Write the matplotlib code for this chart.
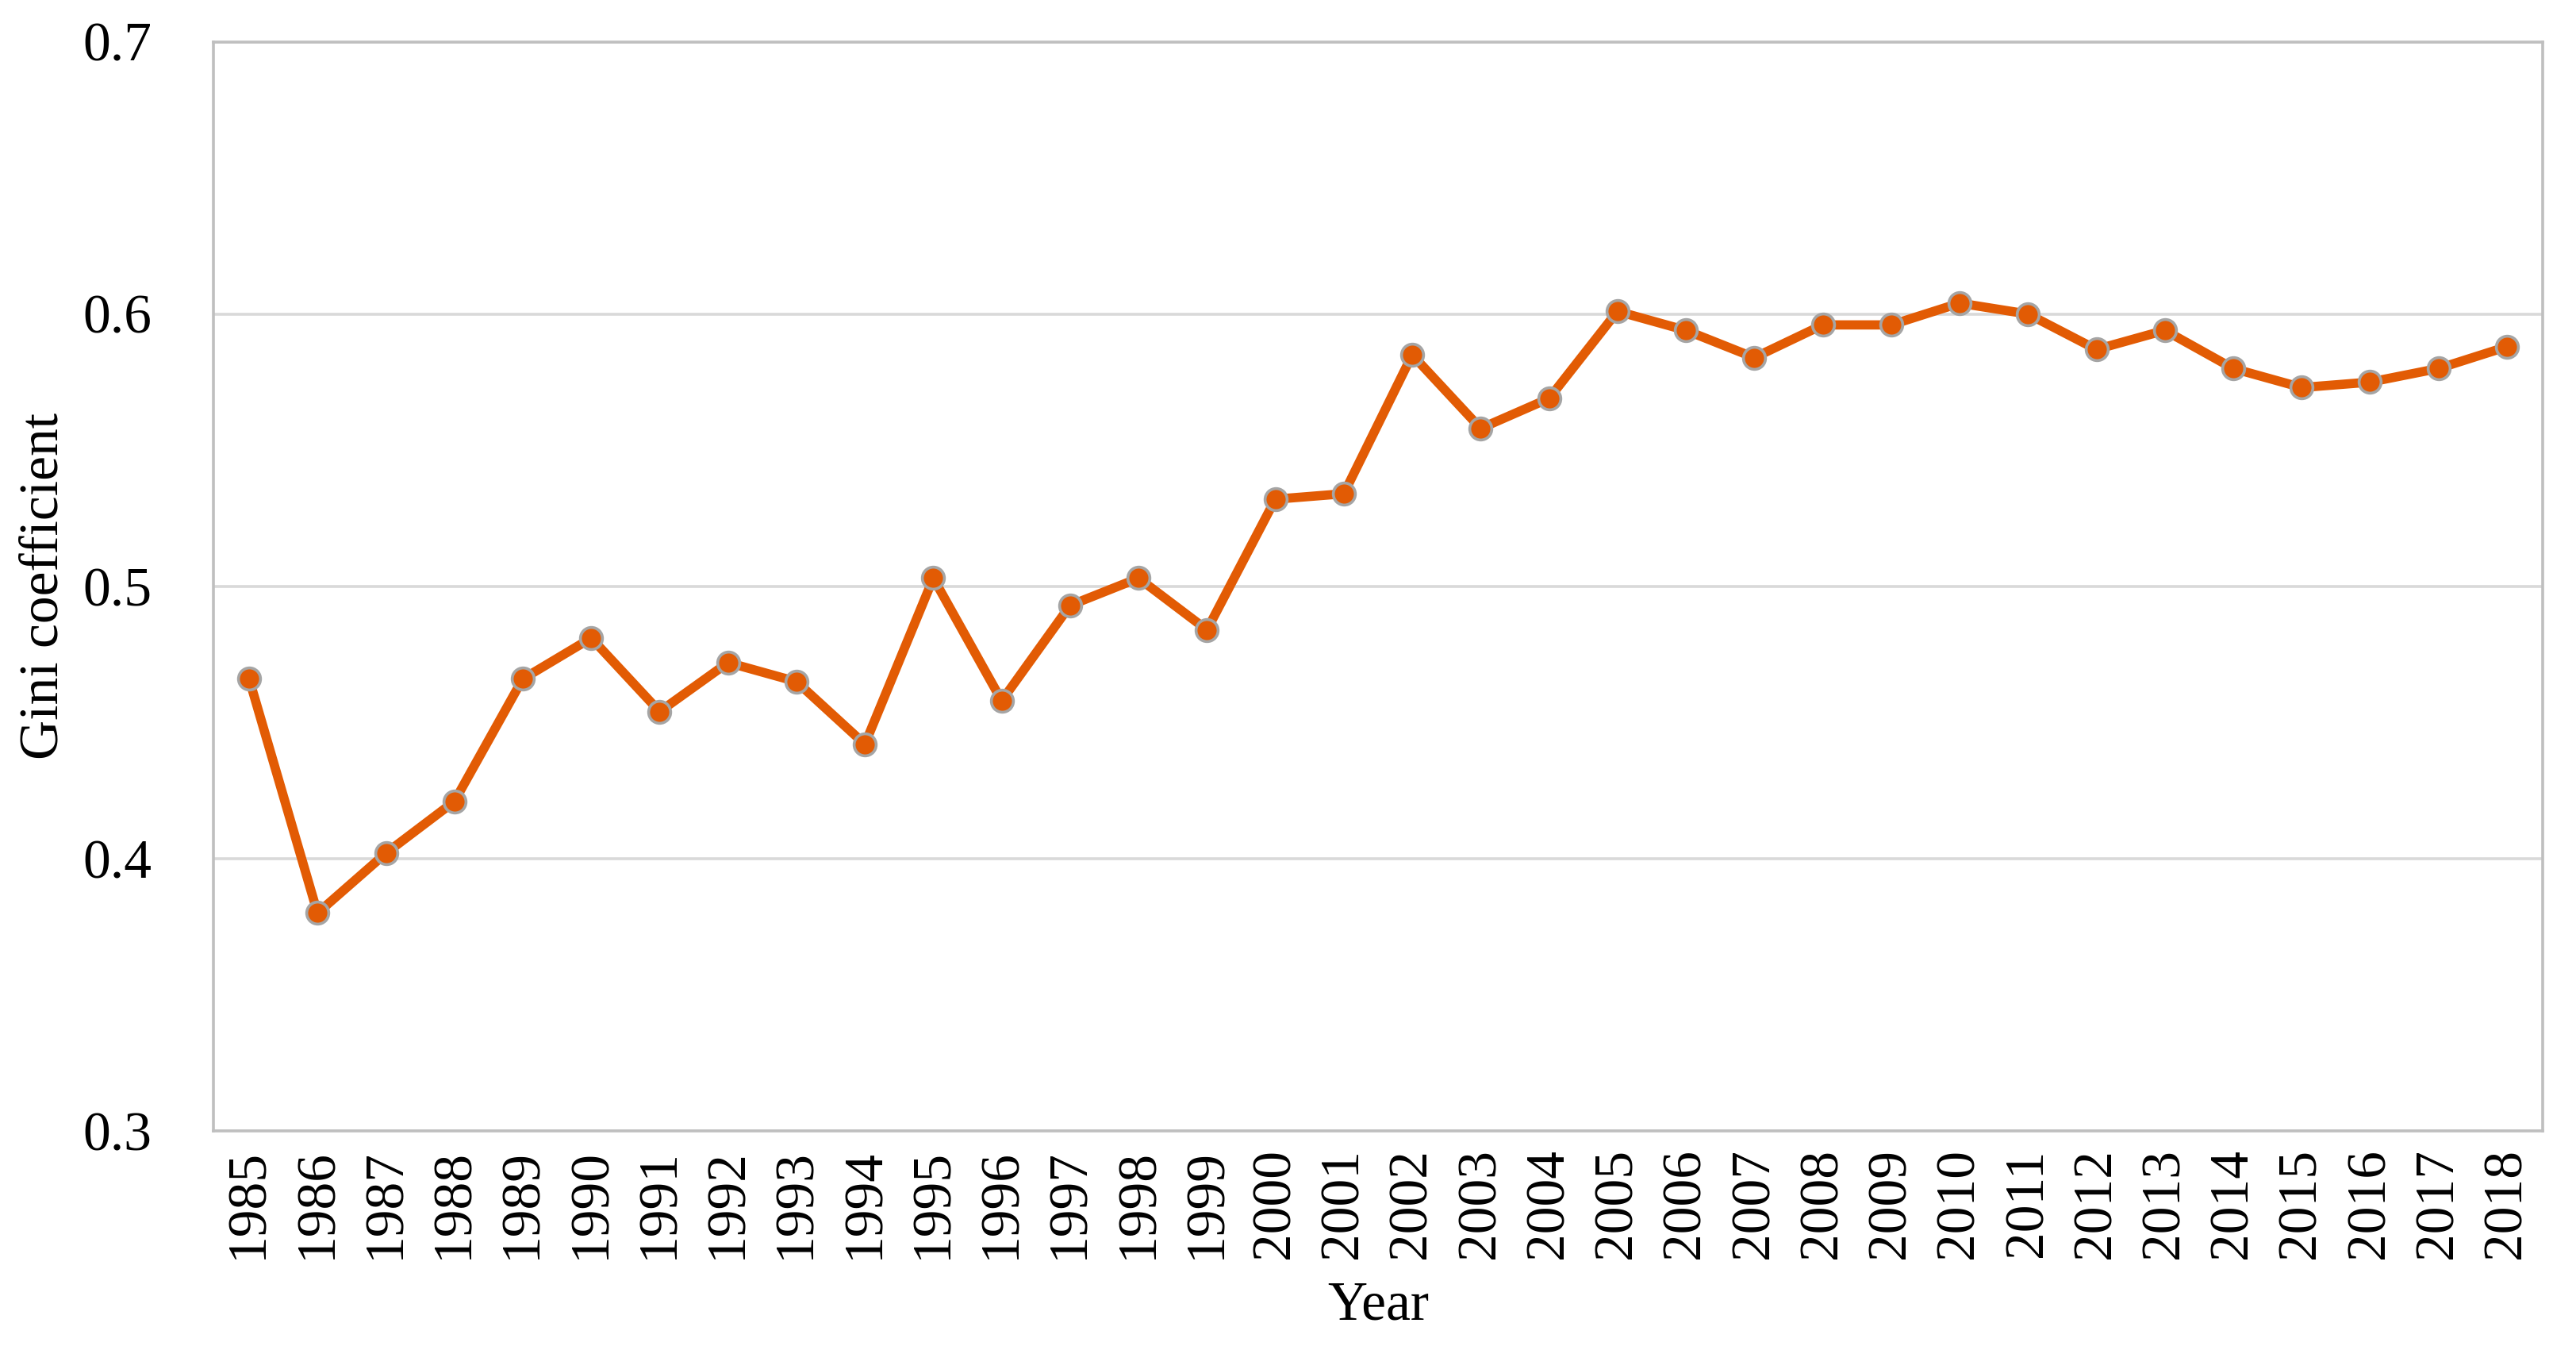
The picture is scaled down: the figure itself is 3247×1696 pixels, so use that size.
import matplotlib
matplotlib.use("Agg")
import matplotlib.pyplot as plt

# -------------------
# Data
# -------------------
years = [str(y) for y in range(1985, 2019)]
gini = [0.466, 0.380, 0.402, 0.421, 0.466, 0.481, 0.454, 0.472, 0.465, 0.442,
        0.503, 0.458, 0.493, 0.503, 0.484, 0.532, 0.534, 0.585, 0.558, 0.569,
        0.601, 0.594, 0.584, 0.596, 0.596, 0.604, 0.600, 0.587, 0.594, 0.580,
        0.573, 0.575, 0.580, 0.588]
y_ticks = [0.3, 0.4, 0.5, 0.6, 0.7]

plt.rcParams['font.family'] = ['Liberation Serif', 'DejaVu Serif']

fig = plt.figure(figsize=(3247 / 200, 1696 / 200), dpi=200)
ax = fig.add_axes([0.0829, 0.1598, 0.9041, 0.8092])

x = list(range(len(years)))
ax.plot(x, gini, color='#E25B04', linewidth=4.2, marker='o', markersize=10,
        markerfacecolor='#E25B04', markeredgecolor='#A5A5A5', markeredgewidth=1.3,
        zorder=3)

ax.set_ylim(0.3, 0.7)
ax.set_yticks(y_ticks)
ax.set_yticklabels([f"{v:.1f}" for v in y_ticks])
ax.set_xlim(-0.52, len(years) - 0.48)
ax.set_xticks(x)
ax.set_xticklabels(years, rotation=90)

ax.grid(axis='y', color='#D9D9D9', linewidth=1.3, zorder=0)
for side in ['left', 'bottom', 'right', 'top']:
    ax.spines[side].set_color('#BFBFBF')
    ax.spines[side].set_linewidth(1.3)
ax.tick_params(axis='x', length=0, labelsize=25, pad=8)
ax.tick_params(axis='y', length=0, labelsize=25, pad=28)

ax.set_xlabel("Year", fontsize=25, labelpad=10)
ax.set_ylabel("Gini coefficient", fontsize=25, labelpad=6)

fig.savefig("out.png", dpi=200)
